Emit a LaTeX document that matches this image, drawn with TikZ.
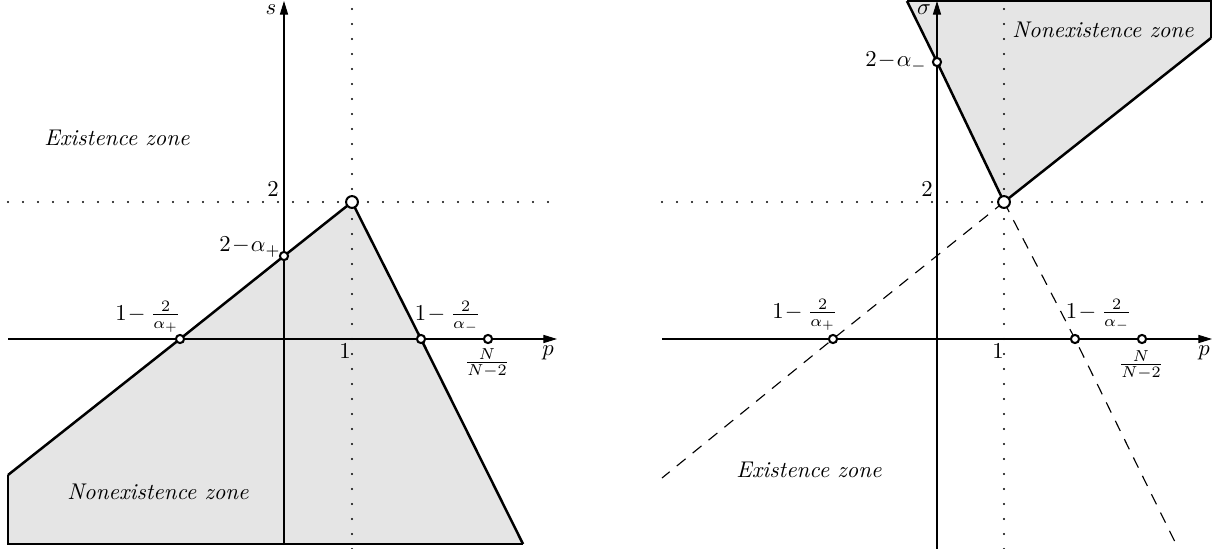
\documentclass[tikz,border=0pt]{standalone}
\usetikzlibrary{arrows.meta}
\begin{document}
\begin{tikzpicture}[x=0.44pt,y=-0.44pt,
  axis/.style={line width=0.45pt,-{Triangle[length=6pt,width=3.6pt]}},
  guide/.style={line width=1pt, dash pattern=on 0pt off 6.6pt, line cap=round},
  bound/.style={line width=1.1pt, line join=round},
  edge/.style={line width=0.5pt},
  region/.style={fill=black!10},
  dashedline/.style={line width=0.5pt, dash pattern=on 5pt off 4pt},
  pt/.style={circle, draw, fill=white, line width=0.9pt, inner sep=0pt, minimum size=3.6pt},
  bigpt/.style={circle, draw, fill=white, line width=0.9pt, inner sep=0pt, minimum size=5.2pt},
  lbl/.style={inner sep=0pt},
  zone/.style={inner sep=0pt, font=\itshape}]
\useasboundingbox (0,0) rectangle (1221,549);

% ---------- left panel coordinates ----------
\coordinate (Lc) at (8,475);
\coordinate (Lb) at (8,544);
\coordinate (Rb) at (523,544);
\coordinate (A1) at (180,339);
\coordinate (B1) at (284,256);
\coordinate (T1) at (352,202);
\coordinate (C1) at (421,339);
\coordinate (D1) at (488,339);
\coordinate (x1s) at (8,339);
\coordinate (x1e) at (557,339);
\coordinate (y1s) at (284,545);
\coordinate (y1e) at (284,1);
\coordinate (v1s) at (352,549);
\coordinate (v1e) at (352,0);
\coordinate (h1s) at (8,202);
\coordinate (h1e) at (552,202);

\fill[region] (Lc) -- (A1) -- (B1) -- (T1) -- (C1) -- (Rb) -- (Lb) -- cycle;
\draw[guide] (v1s) -- (v1e);
\draw[guide] (h1s) -- (h1e);
\draw[axis] (x1s) -- (x1e);
\draw[axis] (y1s) -- (y1e);
\draw[edge] (Lc) -- (Lb) -- (Rb);
\draw[bound] (Lc) -- (A1) -- (B1) -- (T1) -- (C1) -- (Rb);
\node[pt] (pA1) at (A1) {};
\node[pt] (pB1) at (B1) {};
\node[pt] (pC1) at (C1) {};
\node[pt] (pD1) at (D1) {};
\node[bigpt] (pT1) at (T1) {};

\node[lbl] (ls) at (271,10) {$s$};
\node[zone] (lez) at (117,138) {Existence zone};
\node[lbl] (l2) at (273,189) {$2$};
\node[lbl] (lam) at (250,247) {$2\!-\!\alpha_+$};
\node[lbl] (lap) at (148,317) {$1\!-\frac{2}{\alpha_+}$};
\node[lbl] (lbm) at (448,317) {$1\!-\frac{2}{\alpha_-}$};
\node[lbl] (lN) at (487,363) {$\frac{N}{N-2}$};
\node[lbl] (l1) at (345,351) {$1$};
\node[lbl] (lp) at (548,353) {$p$};
\node[zone] (lnz) at (158,492) {Nonexistence zone};

% ---------- right panel coordinates ----------
\coordinate (Ra) at (907,1);
\coordinate (Rt) at (1211,1);
\coordinate (Rc) at (1211,38);
\coordinate (B2) at (937,62);
\coordinate (T2) at (1004,202);
\coordinate (A2) at (833,339);
\coordinate (C2) at (1075,339);
\coordinate (D2) at (1142,339);
\coordinate (E2) at (662,478);
\coordinate (F2) at (1176,544);
\coordinate (x2s) at (662,339);
\coordinate (x2e) at (1212,339);
\coordinate (y2s) at (937,549);
\coordinate (y2e) at (937,1);
\coordinate (v2s) at (1004,549);
\coordinate (v2e) at (1004,0);
\coordinate (h2s) at (662,202);
\coordinate (h2e) at (1205,202);

\fill[region] (Ra) -- (Rt) -- (Rc) -- (T2) -- (B2) -- cycle;
\draw[guide] (v2s) -- (v2e);
\draw[guide] (h2s) -- (h2e);
\draw[axis] (x2s) -- (x2e);
\draw[axis] (y2s) -- (y2e);
\draw[dashedline] (T2) -- (A2) -- (E2);
\draw[dashedline] (T2) -- (C2) -- (F2);
\draw[edge] (Ra) -- (Rt) -- (Rc);
\draw[bound] (Ra) -- (B2) -- (T2) -- (Rc);
\node[pt] (pA2) at (A2) {};
\node[pt] (pB2) at (B2) {};
\node[pt] (pC2) at (C2) {};
\node[pt] (pD2) at (D2) {};
\node[bigpt] (pT2) at (T2) {};

\node[lbl] (rs) at (924,10) {$\sigma$};
\node[zone] (rnz) at (1103,30) {Nonexistence zone};
\node[lbl] (ram) at (896,62) {$2\!-\!\alpha_-$};
\node[lbl] (r2) at (927,189) {$2$};
\node[lbl] (rap) at (805,315) {$1\!-\frac{2}{\alpha_+}$};
\node[lbl] (rbm) at (1099,315) {$1\!-\frac{2}{\alpha_-}$};
\node[lbl] (rN) at (1141,365) {$\frac{N}{N-2}$};
\node[lbl] (r1) at (998,351) {$1$};
\node[lbl] (rp) at (1204,353) {$p$};
\node[zone] (rez) at (809,470) {Existence zone};
\end{tikzpicture}
\end{document}
